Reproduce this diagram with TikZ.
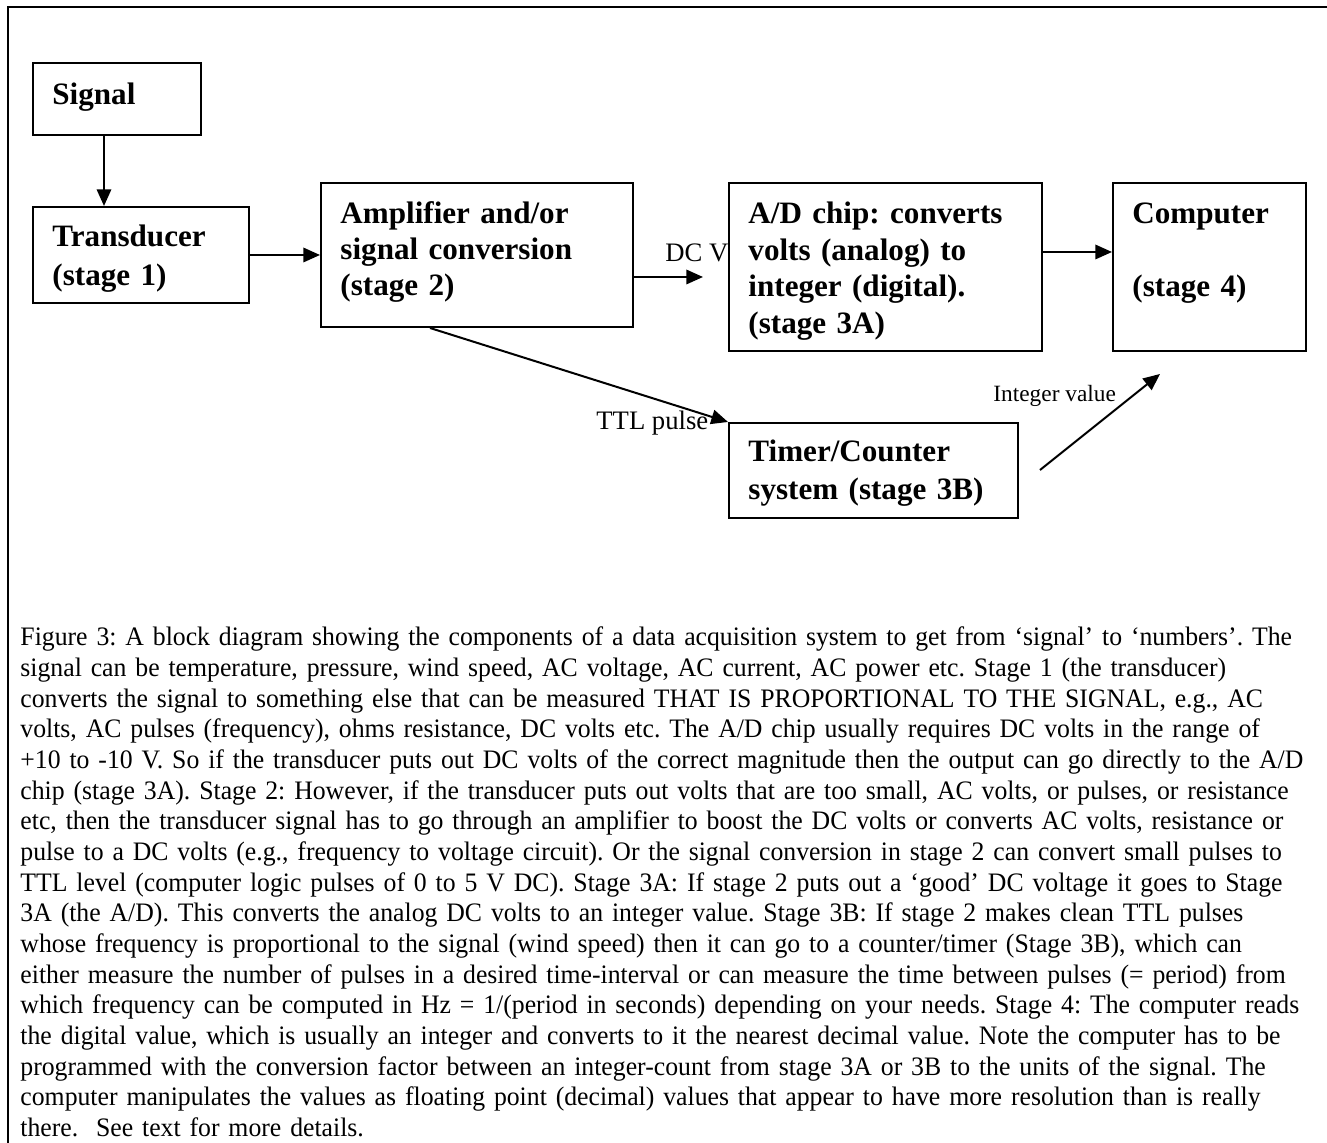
\documentclass[tikz,border=0pt]{standalone}
\usepackage{fontspec}
\setmainfont{Liberation Serif}
\newfontfamily\capfont[FakeStretch=0.965]{Liberation Serif}
\usetikzlibrary{arrows.meta}
\newcommand\bfs[1]{\fontsize{14}{#1}\selectfont\bfseries}
\begin{document}
\frenchspacing
\begin{tikzpicture}[x=0.45pt,y=-0.45pt,
  box/.style={draw, line width=0.9pt, inner sep=0pt, anchor=north west},
  btxt/.style={anchor=base west, inner sep=0pt, align=left, text width=#1},
  conn/.style={line width=0.9pt, -{Triangle[length=7.5pt,width=6.5pt]}},
  lbl/.style={anchor=base west, inner sep=0pt, font=\fontsize{12}{13.8}\selectfont},
  ]
\useasboundingbox (0,0) rectangle (1327,1143);
\draw[line width=1.2pt] (8,1143) -- (8,7) -- (1327,7);

% boxes
\node[box, minimum width=168*0.45pt, minimum height=72*0.45pt] (sig) at (32,62) {};
\node[box, minimum width=216*0.45pt, minimum height=96*0.45pt] (trans) at (32,206) {};
\node[box, minimum width=312*0.45pt, minimum height=144*0.45pt] (amp) at (320,182) {};
\node[box, minimum width=313*0.45pt, minimum height=168*0.45pt] (ad) at (728,182) {};
\node[box, minimum width=193*0.45pt, minimum height=168*0.45pt] (comp) at (1112,182) {};
\node[box, minimum width=289*0.45pt, minimum height=95*0.45pt] (timer) at (728,422) {};

% box texts
\node[btxt=60pt, font=\bfs{16}] (sigt) at (52,105) {Signal};
\node[btxt=90pt, font=\bfs{17.55}] (transt) at (52,247) {Transducer\\(stage 1)};
\node[btxt=130pt, font=\bfs{16}] (ampt) at (340,224) {Amplifier and/or\\signal conversion\\(stage 2)};
\node[btxt=130pt, font=\bfs{16.4}] (adt) at (748,224) {A/D chip: converts\\volts (analog) to\\integer (digital).\\(stage 3A)};
\node[btxt=80pt, font=\bfs{16.4}] (compt) at (1132,224) {Computer\\[16.4pt](stage 4)};
\node[btxt=130pt, font=\bfs{17.1}] (timert) at (748,462) {Timer/Counter\\system (stage 3B)};

% connectors
\coordinate (dcend) at (703,277);
\coordinate (adline) at (0,252);
\coordinate (ivs) at (1040,470);
\coordinate (ive) at (1160,374);
\draw[conn] ([xshift=72*0.45pt]sig.south west) -- ([xshift=72*0.45pt]trans.north west);
\draw[conn] (trans.east) -- (trans.east -| amp.west);
\draw[conn] (amp.east |- dcend) -- (dcend);
\draw[conn] (ad.east |- adline) -- (comp.west |- adline);
\draw[conn] ([xshift=110*0.45pt]amp.south west) -- (timer.north west);
\draw[conn] (ivs) -- (ive);

% labels
\node[lbl] (dcv) at (665,262) {DC V};
\node[lbl] (ttl) at (596,430) {TTL pulse};
\node[lbl, font=\fontsize{10.5}{12}\selectfont] (intv) at (993,402) {Integer value};

% caption
\node[anchor=base west, inner sep=0pt, align=left, text width=620pt,
      font=\capfont\fontsize{12}{13.8}\selectfont] (cap) at (20,646) {%
Figure 3: A block diagram showing the components of a data acquisition system to get from ‘signal’ to ‘numbers’. The\\
signal can be temperature, pressure, wind speed, AC voltage, AC current, AC power etc. Stage 1 (the transducer)\\
converts the signal to something else that can be measured THAT IS PROPORTIONAL TO THE SIGNAL, e.g., AC\\
volts, AC pulses (frequency), ohms resistance, DC volts etc. The A/D chip usually requires DC volts in the range of\\
+10 to -10 V. So if the transducer puts out DC volts of the correct magnitude then the output can go directly to the A/D\\
chip (stage 3A). Stage 2: However, if the transducer puts out volts that are too small, AC volts, or pulses, or resistance\\
etc, then the transducer signal has to go through an amplifier to boost the DC volts or converts AC volts, resistance or\\
pulse to a DC volts (e.g., frequency to voltage circuit). Or the signal conversion in stage 2 can convert small pulses to\\
TTL level (computer logic pulses of 0 to 5 V DC). Stage 3A: If stage 2 puts out a ‘good’ DC voltage it goes to Stage\\
3A (the A/D). This converts the analog DC volts to an integer value. Stage 3B: If stage 2 makes clean TTL pulses\\
whose frequency is proportional to the signal (wind speed) then it can go to a counter/timer (Stage 3B), which can\\
either measure the number of pulses in a desired time-interval or can measure the time between pulses (= period) from\\
which frequency can be computed in Hz = 1/(period in seconds) depending on your needs. Stage 4: The computer reads\\
the digital value, which is usually an integer and converts to it the nearest decimal value. Note the computer has to be\\
programmed with the conversion factor between an integer-count from stage 3A or 3B to the units of the signal. The\\
computer manipulates the values as floating point (decimal) values that appear to have more resolution than is really\\
there.\ \ See text for more details.};
\end{tikzpicture}
\end{document}
